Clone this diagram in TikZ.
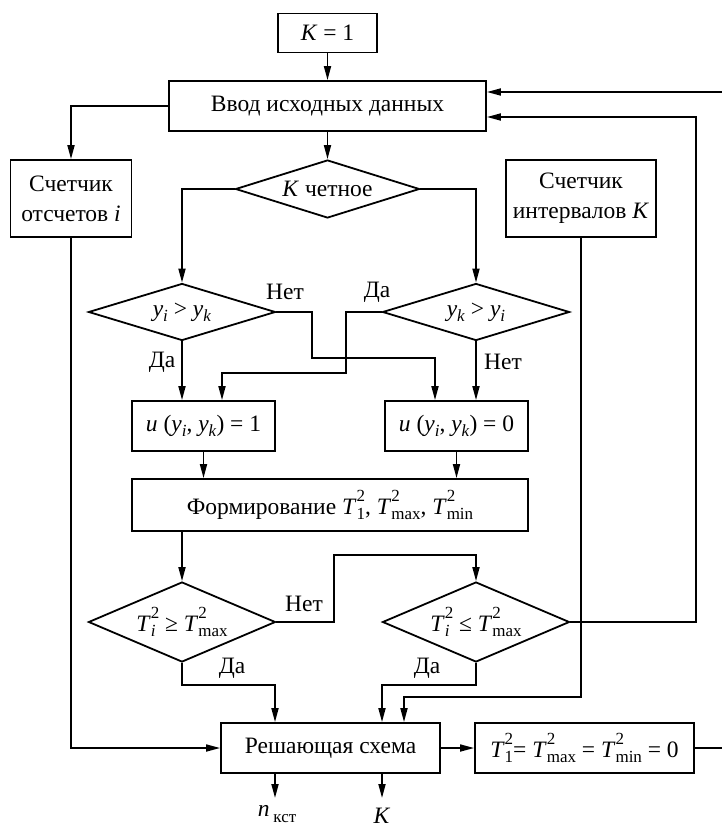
\documentclass[tikz,border=0pt]{standalone}
\usepackage{fontspec}
\setmainfont{Liberation Serif}
\usetikzlibrary{arrows.meta,shapes.geometric}
\newdimen\ssdim
\newcommand\smf{\fontsize{17}{17}\selectfont}
\newcommand\subsup[2]{\setbox0=\hbox{\smf #1}\setbox2=\hbox{\smf #2}\ssdim=\wd0 \ifdim\wd2>\ssdim \ssdim=\wd2 \fi\hbox to \ssdim{\rlap{\raisebox{-0.5ex}{\box0}}\rlap{\raisebox{1.15ex}{\box2}}\hfil}}
\newcommand\sbs[1]{\raisebox{-0.5ex}{\smf #1}}
\newcommand\Tq[1]{\textit{T}\subsup{#1}{2}}
\tikzset{
  box/.style={draw, line width=1.8pt, inner sep=0pt, align=center, font=\fontsize{23.5}{30}\selectfont},
  dia/.style={diamond, draw, line width=1.8pt, inner sep=0pt, aspect=3, font=\fontsize{23.5}{30}\selectfont},
  lbl/.style={inner sep=0pt, font=\fontsize{23.5}{30}\selectfont},
  arr/.style={line width=1.7pt, -{Triangle[length=14pt,width=7pt]}},
  ln/.style={line width=1.7pt}
}
\begin{document}
\begin{tikzpicture}[x=1pt,y=-1pt]
\useasboundingbox (0,0) rectangle (722,830);
\node[box, minimum width=99, minimum height=39] (k1) at (327.5,33) {\textit{K} = 1};
\node[box, minimum width=317, minimum height=50] (vvod) at (327.5,106) {Ввод исходных данных};
\node[box, minimum width=121, minimum height=77] (c1) at (71,198.5) {Счетчик\\отсчетов \textit{i}};
\node[box, minimum width=150, minimum height=77] (c2) at (581,198.5) {Счетчик\\интервалов \textit{K}};
\node[dia, minimum width=184, minimum height=58] (d0) at (327.5,189) {\makebox[0pt]{\textit{K} четное}};
\node[dia, minimum width=187, minimum height=57] (d1) at (182,312) {\makebox[0pt]{\textit{y}\sbs{\textit{i}} > \textit{y}\sbs{\textit{k}}}};
\node[dia, minimum width=187, minimum height=57] (d2) at (476,312) {\makebox[0pt]{\textit{y}\sbs{\textit{k}} > \textit{y}\sbs{\textit{i}}}};
\node[box, minimum width=143, minimum height=50] (u1) at (203.5,426) {\textit{u} (\textit{y}\sbs{\textit{i}}, \textit{y}\sbs{\textit{k}}) = 1};
\node[box, minimum width=143, minimum height=50] (u0) at (456.5,426) {\textit{u} (\textit{y}\sbs{\textit{i}}, \textit{y}\sbs{\textit{k}}) = 0};
\node[box, minimum width=396, minimum height=52] (form) at (330,505) {Формирование \Tq{1}, \Tq{max}, \Tq{min}};
\node[dia, minimum width=187, minimum height=80] (d3) at (182,622) {\makebox[0pt]{\Tq{\textit{i}} ≥ \Tq{max}}};
\node[dia, minimum width=187, minimum height=80] (d4) at (476,622) {\makebox[0pt]{\Tq{\textit{i}} ≤ \Tq{max}}};
\node[box, minimum width=219, minimum height=50] (resh) at (330.5,748) {Решающая схема};
\node[box, minimum width=219, minimum height=50] (tb) at (584.5,748) {\Tq{1}= \Tq{max} = \Tq{min} = 0};
\coordinate (out1) at (275,798);
\coordinate (out2) at (382,798);
\node[lbl] (n1) at (277,814) {\textit{n}\,\sbs{кст}};
\node[lbl] (n2) at (382,816) {\textit{K}};
% labels
\node[lbl] at (285,292) {Нет};
\node[lbl] at (377,292) {Да};
\node[lbl] at (162,362) {Да};
\node[lbl] at (503,362) {Нет};
\node[lbl] at (304,604) {Нет};
\node[lbl] at (232,668) {Да};
\node[lbl] at (427,668) {Да};
% connectors
\draw[arr] (k1) -- (vvod);
\draw[arr] (vvod.west) -| (c1.north);
\draw[arr] (vvod) -- (d0);
\draw[arr] (d0.west) -| (d1.north);
\draw[arr] (d0.east) -| (d2.north);
\draw[arr] (d1.south) -- (d1.south |- u1.north);
\draw[arr] (d2.south) -- (d2.south |- u0.north);
\draw[arr] (d1.east) -- (312,312) -- (312,358) -| ([xshift=-21.5pt]u0.north);
\draw[arr] (d2.west) -- (346,312) -- (346,373) -| ([xshift=18.5pt]u1.north);
\draw[arr] (u1.south) -- (u1.south |- form.north);
\draw[arr] (u0.south) -- (u0.south |- form.north);
\draw[arr] (d3.north |- form.south) -- (d3.north);
\draw[arr] (d3.east) -- (334,622) -- (334,555) -| (d4.north);
\draw[arr] (d4.east) -| (696,117) -- ([yshift=-11pt]vvod.east);
\draw[arr] (d3.south) -- (182,685) -| ([xshift=-55.5pt]resh.north);
\draw[arr] (d4.south) -- (476,685) -| ([xshift=51.5pt]resh.north);
\draw[arr] (c2.south) -- (581,697) -| ([xshift=73.5pt]resh.north);
\draw[arr] (c1.south) |- (resh.west);
\draw[arr] (resh) -- (tb);
\draw[arr] (tb.east) -- (727,748) -- (727,92) -- ([yshift=14pt]vvod.east);
\draw[arr] ([xshift=-55.5pt]resh.south) -- (out1);
\draw[arr] ([xshift=51.5pt]resh.south) -- (out2);
\end{tikzpicture}
\end{document}
